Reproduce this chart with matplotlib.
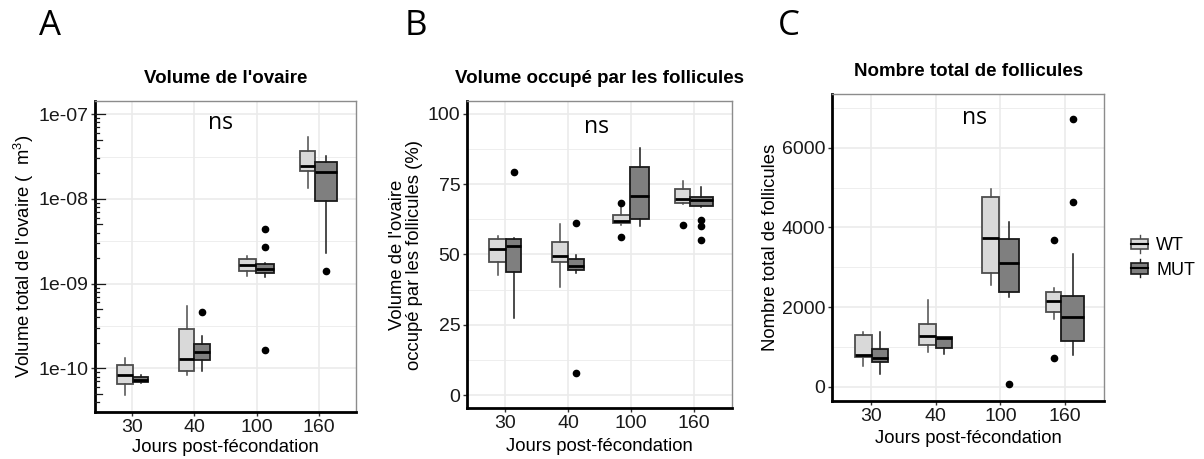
import matplotlib
matplotlib.use("Agg")
import numpy as np
import matplotlib.pyplot as plt
from matplotlib.legend_handler import HandlerBase
from matplotlib.patches import Rectangle
from matplotlib.lines import Line2D
from matplotlib.ticker import FixedLocator, NullFormatter
import matplotlib.transforms as mtransforms

plt.rcParams['font.family'] = ['Liberation Sans', 'DejaVu Sans']
plt.rcParams['mathtext.default'] = 'regular'

jours = ['30', '40', '100', '160']
groupes = ['WT', 'MUT']
# effectifs par groupe (largeur des boites proportionnelle a sqrt(n))
n_wt = [8, 7, 8, 6]
n_mut = [6, 7, 10, 14]

# resumes des boites : [moustache basse, Q1, mediane, Q3, moustache haute]
vol_wt = [[4.8e-11, 6.5e-11, 8.3e-11, 1.10e-10, 1.31e-10],
          [8.3e-11, 9.4e-11, 1.30e-10, 2.95e-10, 5.4e-10],
          [1.24e-9, 1.42e-9, 1.66e-9, 1.95e-9, 2.11e-9],
          [1.33e-8, 2.15e-8, 2.47e-8, 3.70e-8, 5.36e-8]]
vol_mut = [[6.7e-11, 6.84e-11, 7.28e-11, 7.83e-11, 8.4e-11],
           [9.4e-11, 1.26e-10, 1.57e-10, 1.93e-10, 2.38e-10],
           [1.20e-9, 1.33e-9, 1.47e-9, 1.70e-9, 1.77e-9],
           [2.27e-9, 9.55e-9, 2.06e-8, 2.72e-8, 3.23e-8]]
vol_wt_out = [[], [], [], []]
vol_mut_out = [[], [4.63e-10], [4.47e-9, 2.67e-9, 1.66e-10], [1.42e-9]]

occ_wt = [[42.5, 47.2, 52.0, 55.6, 56.6],
          [38.5, 47.2, 49.5, 54.3, 60.9],
          [60.5, 61.2, 61.8, 64.1, 67.0],
          [67.9, 68.3, 69.8, 73.1, 76.2]]
occ_mut = [[27.3, 43.9, 53.0, 55.3, 55.9],
           [43.3, 44.4, 46.0, 48.4, 49.6],
           [59.9, 62.4, 70.8, 81.2, 87.8],
           [66.8, 67.2, 69.2, 70.4, 73.8]]
occ_wt_out = [[], [], [68.3, 56.2], [60.4]]
occ_mut_out = [[79.1], [61.2, 7.9], [], [62.3, 59.9, 55.2]]

nb_wt = [[520, 754, 789, 1299, 1367],
         [864, 1040, 1266, 1583, 2178],
         [2563, 2849, 3729, 4759, 4960],
         [1693, 1869, 2161, 2372, 2487]]
nb_mut = [[319, 613, 714, 940, 1367],
          [822, 980, 1216, 1249, 1249],
          [2261, 2372, 3108, 3711, 4131],
          [797, 1156, 1744, 2271, 3342]]
nb_wt_out = [[], [], [], [3678, 729]]
nb_mut_out = [[], [], [75], [6719, 4633]]

FILL = {'WT': '#d9d9d9', 'MUT': '#7f7f7f'}
EDGE = {'WT': '#4d4d4d', 'MUT': '#1a1a1a'}

W, H = 1204, 459
fig = plt.figure(figsize=(W / 100, H / 100), dpi=100)


def px_axes(x0, y0, x1, y1):
    return fig.add_axes([x0 / W, 1 - y1 / H, (x1 - x0) / W, (y1 - y0) / H])


def to_stats(summary, outliers):
    stats = []
    for s, o in zip(summary, outliers):
        stats.append(dict(whislo=s[0], q1=s[1], med=s[2], q3=s[3], whishi=s[4], fliers=o))
    return stats


def draw_boxes(ax, wt, mut, wt_out, mut_out):
    nmax = max(n_wt + n_mut)
    w_wt = [0.36 * np.sqrt(n / nmax) for n in n_wt]
    w_mut = [0.36 * np.sqrt(n / nmax) for n in n_mut]
    x = np.arange(len(jours))
    tot = np.array(w_wt) + np.array(w_mut)
    pos_wt = x - tot / 2 + np.array(w_wt) / 2
    pos_mut = x - tot / 2 + np.array(w_wt) + np.array(w_mut) / 2
    for g, stats, pos, wd in [('WT', to_stats(wt, wt_out), pos_wt, w_wt),
                              ('MUT', to_stats(mut, mut_out), pos_mut, w_mut)]:
        ax.bxp(stats, positions=pos, widths=wd, patch_artist=True, showcaps=False,
               manage_ticks=False,
               boxprops=dict(facecolor=FILL[g], edgecolor=EDGE[g], linewidth=1.3),
               medianprops=dict(color='black', linewidth=2),
               whiskerprops=dict(color=EDGE[g], linewidth=1.1),
               flierprops=dict(marker='o', markerfacecolor='black',
                               markeredgecolor='black', markersize=4.5))


def style(ax, minor_y):
    ax.set_xlim(-0.6, 3.6)
    ax.set_xticks(range(len(jours)))
    ax.set_xticklabels(jours)
    ax.yaxis.set_minor_locator(FixedLocator(minor_y))
    ax.yaxis.set_minor_formatter(NullFormatter())
    ax.grid(True, which='major', color='#ebebeb', linewidth=1.2)
    ax.grid(True, which='minor', axis='y', color='#ebebeb', linewidth=0.6)
    ax.set_axisbelow(True)
    ax.tick_params(which='major', length=3, width=1, color='#333333',
                   labelsize=14, labelcolor='#1a1a1a', pad=2)
    ax.tick_params(which='minor', length=0)
    for side in ['top', 'right']:
        ax.spines[side].set_color('#8c8c8c')
        ax.spines[side].set_linewidth(1)
    for side in ['left', 'bottom']:
        ax.spines[side].set_color('black')
        ax.spines[side].set_linewidth(2)


# --- A : volume de l'ovaire (echelle log) ---
axA = px_axes(95, 101, 356, 412.3)
draw_boxes(axA, vol_wt, vol_mut, vol_wt_out, vol_mut_out)
axA.set_yscale('log')
axA.set_ylim(3.03e-11, 1.43e-7)
axA.set_yticks([1e-10, 1e-9, 1e-8, 1e-7])
axA.set_yticklabels(['1e-10', '1e-09', '1e-08', '1e-07'])
style(axA, [10 ** (k + 0.5) for k in range(-11, -7)])
# graduations logarithmiques a l'interieur de l'axe
tr = mtransforms.blended_transform_factory(axA.transAxes, axA.transData)
for k in range(-11, -6):
    for m in range(1, 10):
        v = m * 10.0 ** k
        if 3.03e-11 <= v <= 1.43e-7:
            L = 10 if m == 1 else (7 if m == 5 else 3.5)
            axA.plot([0, L / 261], [v, v], color='#1a1a1a', lw=0.9, transform=tr,
                     clip_on=False, zorder=5)
axA.set_title("Volume de l'ovaire", fontweight='bold', fontsize=13.5, pad=13)
axA.set_ylabel("Volume total de l'ovaire (  m$^{3}$)", fontsize=13.3, va='center')
axA.yaxis.set_label_coords(-0.272, 0.5)
axA.set_xlabel('Jours post-fécondation', fontsize=13.3, va='center')
axA.xaxis.set_label_coords(0.5, -0.114)
axA.text(0.479, 0.929, 'ns', transform=axA.transAxes, ha='center', va='center',
         fontsize=16.5, family=['Open Sans', 'DejaVu Sans'])

# --- B : volume occupe par les follicules ---
axB = px_axes(467.3, 100.7, 731.7, 408.3)
draw_boxes(axB, occ_wt, occ_mut, occ_wt_out, occ_mut_out)
axB.set_ylim(-4.7, 104.6)
axB.set_yticks([0, 25, 50, 75, 100])
style(axB, [12.5, 37.5, 62.5, 87.5])
axB.set_title('Volume occupé par les follicules', fontweight='bold', fontsize=13.5, pad=13)
axB.set_ylabel("Volume de l'ovaire\noccupé par les follicules (%)", fontsize=13.3,
               va='center', linespacing=1.0)
axB.yaxis.set_label_coords(-0.232, 0.5)
axB.set_xlabel('Jours post-fécondation', fontsize=13.3, va='center')
axB.xaxis.set_label_coords(0.5, -0.124)
axB.text(0.487, 0.915, 'ns', transform=axB.transAxes, ha='center', va='center',
         fontsize=16.5, family=['Open Sans', 'DejaVu Sans'])

# --- C : nombre total de follicules ---
axC = px_axes(832.3, 94.3, 1104, 401)
draw_boxes(axC, nb_wt, nb_mut, nb_wt_out, nb_mut_out)
axC.set_ylim(-359, 7341)
axC.set_yticks([0, 2000, 4000, 6000])
style(axC, [1000, 3000, 5000, 7000])
axC.set_title('Nombre total de follicules', fontweight='bold', fontsize=13.5, pad=13)
axC.set_ylabel('Nombre total de follicules', fontsize=13.3, va='center')
axC.yaxis.set_label_coords(-0.226, 0.5)
axC.set_xlabel('Jours post-fécondation', fontsize=13.3, va='center')
axC.xaxis.set_label_coords(0.5, -0.122)
axC.text(0.522, 0.923, 'ns', transform=axC.transAxes, ha='center', va='center',
         fontsize=16.5, family=['Open Sans', 'DejaVu Sans'])


# legende avec des cles en forme de boite
class BoxKey(HandlerBase):
    def create_artists(self, legend, orig, xd, yd, w, h, fontsize, trans):
        x0, y0 = -xd, -yd
        fc, ec = orig.get_facecolor(), orig.get_edgecolor()
        whisk = Line2D([x0 + w / 2] * 2, [y0 - 0.25 * h, y0 + 1.25 * h], color=ec,
                       lw=1, transform=trans)
        box = Rectangle((x0, y0 + 0.05 * h), w, 0.9 * h, facecolor=fc, edgecolor=ec,
                        lw=1.2, transform=trans)
        med = Line2D([x0, x0 + w], [y0 + h / 2] * 2, color='black', lw=1.5,
                     transform=trans)
        return [whisk, box, med]


handles = [Rectangle((0, 0), 1, 1, facecolor=FILL[g], edgecolor=EDGE[g]) for g in groupes]
fig.legend(handles, groupes, loc='center left', bbox_to_anchor=(1131 / W, 1 - 258 / H),
           frameon=False, fontsize=13, handlelength=0.95, handleheight=0.65,
           handletextpad=0.45, labelspacing=0.4, borderpad=0, borderaxespad=0,
           handler_map={h: BoxKey() for h in handles})

# lettres des panneaux
for lettre, xp in [('A', 39), ('B', 405), ('C', 778)]:
    fig.text(xp / W, 1 - 26 / H, lettre, fontsize=25, ha='left', va='center',
             family=['Open Sans', 'DejaVu Sans'])

fig.savefig('out.png', dpi=100)
